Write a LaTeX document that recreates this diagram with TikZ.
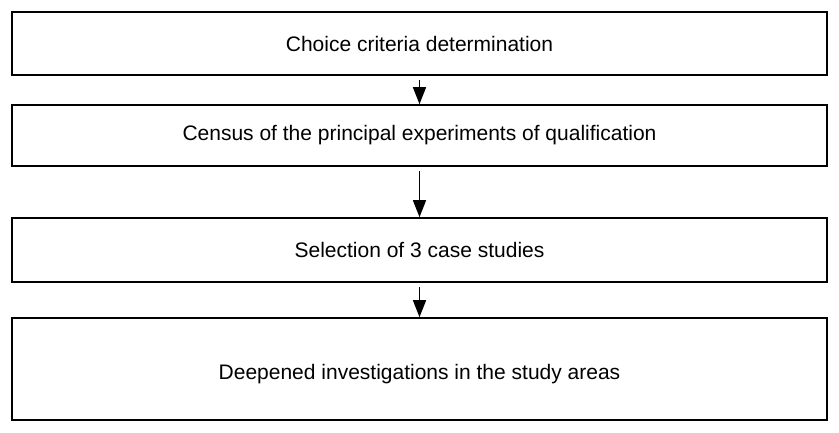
\documentclass[tikz,border=0pt]{standalone}
\usepackage{fontspec}
\setmainfont{Liberation Sans}
\usetikzlibrary{arrows.meta}
\begin{document}
\begin{tikzpicture}[x=1pt,y=-1pt,
  txt/.style={font=\fontsize{21}{24}\selectfont},
  stepbox/.style={draw=black,line width=1.6pt,minimum width=815pt,inner sep=0pt,txt},
  flow/.style={draw=black,line width=1.5pt,-{Triangle[length=17pt,width=13pt]}}]
\useasboundingbox (0,0) rectangle (839,432);
\node[stepbox,minimum height=63pt] (b1) at (419.5,43.5) {Choice criteria determination};
\node[stepbox,minimum height=61pt] (b2) at (419.5,135.5) {Census of the principal experiments of qualification};
\node[stepbox,minimum height=64pt] (b3) at (419.5,250) {Selection of 3 case studies};
\node[stepbox,minimum height=102pt] (b4) at (419.5,369) {};
\node[txt] (t4) at (419.5,374) {Deepened investigations in the study areas};
\coordinate (a1s) at (419.5,80);
\coordinate (a2s) at (419.5,171);
\coordinate (a3s) at (419.5,287);
\draw[flow] (a1s) -- (b2.north);
\draw[flow] (a2s) -- (b3.north);
\draw[flow] (a3s) -- (b4.north);
\end{tikzpicture}
\end{document}
